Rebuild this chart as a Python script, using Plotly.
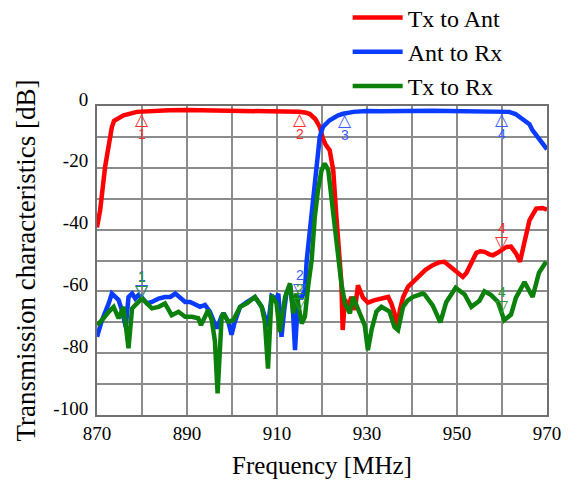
import numpy as np
import plotly.graph_objects as go

# Frequency sweep readings [MHz] and transmission [dB] for each path
tx_ant_freq = [870, 870.7, 871.8, 873.3, 873.8, 875.9, 878.9, 882, 886, 890, 895, 900, 905, 910,
               913, 915, 916.5, 917.3, 918.5, 919.5, 920.2, 920.8, 921.7, 922.5, 923.2, 924.0,
               924.3, 924.6, 925.1, 925.8, 926.5, 927.3, 928.0, 929.1, 930.2, 931.7, 933.6,
               934.7, 935.4, 936.1, 936.7, 937.3, 938.0, 939.1, 940.2, 941.7, 943.0, 944.6,
               946.0, 947.2, 948.2, 949.1, 950.3, 951.3, 952.1, 952.8, 954.3, 955.2, 956.1,
               957.2, 958.0, 959.0, 960.2, 961.0, 962.0, 963.1, 964.0, 965.0, 966.1, 967.6,
               969.0, 970]
tx_ant_db = [-39.3, -33.7, -19.7, -6.8, -4.8, -3.0, -1.9, -1.6, -1.4, -1.3, -1.4, -1.3, -1.5, -1.7,
             -1.8, -1.9, -2.2, -2.6, -4.2, -6.8, -10.5, -12.5, -14.3, -20.8, -35.9, -49.9,
             -57.0, -72.5, -62.5, -65.5, -61.8, -66.0, -58.0, -62.0, -63.6, -62.8, -62.3,
             -61.8, -63.9, -67.0, -72.5, -66.0, -62.0, -58.5, -57.0, -54.7, -53.0, -51.5,
             -50.6, -50.4, -51.5, -52.8, -54.0, -55.3, -54.0, -52.1, -47.5, -47.0, -47.2,
             -48.0, -48.3, -47.5, -46.3, -45.6, -45.5, -47.7, -50.4, -44.5, -37.0, -33.2,
             -33.0, -33.5]

ant_rx_freq = [870, 871.1, 872.6, 873.3, 874.1, 874.8, 875.5, 876.4, 877.0, 877.8, 878.5, 879.2,
               880, 881.1, 882.2, 883.7, 885.1, 886.3, 887.4, 888.5, 889.6, 890.7, 891.8, 892.9,
               894.0, 895.1, 895.9, 896.6, 897.7, 898.1, 899.2, 899.9, 900.6, 901.8, 903.3,
               905.1, 906.6, 907.3, 908.0, 908.8, 909.9, 910.3, 911.0, 911.6, 912.1, 912.9,
               913.5, 914.0, 914.5, 914.7, 915.5, 916.2, 916.6, 917.3, 918.0, 918.8, 919.5,
               920.2, 921.7, 923.6, 924.7, 927, 929.9, 933, 937.3, 941, 944.6, 948, 952, 955,
               959.4, 961.6, 963.0, 963.9, 964.6, 966.1, 966.8, 968.0, 969.0, 970]
ant_rx_db = [-74.7, -69.3, -63.9, -60.7, -61.8, -62.8, -66.0, -71.5, -61.8, -60.7, -62.3, -61.2,
             -62.0, -63.9, -63.4, -62.3, -61.8, -61.8, -60.7, -62.3, -63.4, -63.4, -64.4, -65.0,
             -64.4, -66.6, -69.5, -72.0, -68.0, -67.0, -70.0, -74.0, -70.0, -65.0, -63.5,
             -61.8, -65.0, -68.5, -71.5, -61.5, -62.5, -60.7, -74.7, -66.0, -60.7, -58.0,
             -65.0, -79.0, -66.0, -61.8, -62.0, -59.6, -50.0, -40.2, -30.5, -20.8, -10.0,
             -6.8, -4.6, -3.0, -2.5, -1.9, -1.6, -1.7, -1.5, -1.6, -1.5, -1.6, -1.6, -1.8,
             -1.9, -1.9, -2.6, -3.6, -4.6, -5.9, -7.9, -10.2, -12.0, -14.0]

tx_rx_freq = [870, 871.1, 872.6, 873.7, 874.8, 875.9, 877.0, 877.8, 878.9, 880, 881.1, 882.2,
              883.7, 885.1, 886.6, 888.1, 889.6, 891.1, 892.5, 893.1, 894.0, 894.7, 895.5,
              896.2, 896.8, 897.7, 898.1, 899.2, 900.3, 901.8, 903.3, 905.1, 906.6, 907.3,
              908.0, 908.8, 909.9, 910.6, 911.8, 912.9, 913.6, 914.3, 915.5, 916.2, 916.9,
              917.7, 918.4, 919.1, 919.9, 920.6, 921.4, 922.1, 922.8, 923.6, 924.3, 925.1,
              925.8, 926.2, 926.9, 927.7, 928.4, 929.5, 930.2, 931.0, 932.1, 933.2, 934.2,
              935.0, 936.1, 936.9, 938.0, 939.0, 940.2, 942.4, 942.8, 944.6, 946.3, 947.6,
              949.7, 951.7, 953.2, 955.0, 956.1, 957.6, 959.1, 960.5, 962.0, 963.1, 965.0,
              966.8, 968.2, 969.8]
tx_rx_db = [-70.9, -69.3, -66.6, -65.0, -68.7, -65.0, -78.4, -65.5, -63.9, -62.3, -63.9, -65.5,
            -65.0, -63.9, -67.7, -66.6, -68.2, -68.2, -68.7, -70.9, -68.2, -66.0, -69.3,
            -76.0, -93.0, -68.2, -67.1, -69.8, -69.3, -65.0, -63.9, -61.8, -65.0, -69.8,
            -85.0, -61.2, -63.9, -73.1, -61.8, -57.4, -67.1, -60.7, -70.4, -68.2, -58.5,
            -49.9, -35.9, -27.3, -20.8, -18.6, -20.8, -29.4, -40.2, -49.9, -57.4, -63.9,
            -66.0, -67.1, -61.8, -65.0, -67.1, -71.0, -79.0, -72.5, -66.5, -65.0, -66.0,
            -66.5, -71.5, -72.5, -65.0, -63.0, -61.8, -60.7, -61.0, -64.5, -70.0, -63.5,
            -58.8, -61.0, -65.0, -63.0, -60.0, -61.2, -63.4, -69.3, -67.5, -62.0, -57.0,
            -61.8, -54.0, -50.4]

# Analyzer markers: frequency, label, and whether the triangle points up (below trace)
tx_ant_markers = [(880, "1", "up"), (915, "2", "up"), (960, "4", "down")]
ant_rx_markers = [(880, "1", "down"), (915, "2", "down"), (925, "3", "up"), (960, "4", "up")]
tx_rx_markers = [(880, "1", "down"), (915, "2", "down"), (960, "4", "down")]

x_ticks = [870, 890, 910, 930, 950, 970]
y_ticks = [0, -20, -40, -60, -80, -100]

series = [
    ("Tx to Ant", tx_ant_freq, tx_ant_db, "#ff0000", "#ff2a2a", tx_ant_markers),
    ("Ant to Rx", ant_rx_freq, ant_rx_db, "#0a3cff", "#3a5cff", ant_rx_markers),
    ("Tx to Rx", tx_rx_freq, tx_rx_db, "#0b800b", "#2a9a2a", tx_rx_markers),
]

SERIF = "Liberation Serif, Times New Roman, serif"
SANS = "Liberation Sans, Arial, sans-serif"

fig = go.Figure()
annotations = []
for name, fx, fy, color, mcolor, markers in series:
    fig.add_trace(go.Scatter(x=fx, y=fy, mode="lines", name=name,
                             line=dict(color=color, width=4.5)))
    for f, label, direction in markers:
        v = float(np.interp(f, fx, fy))
        if direction == "up":
            annotations.append(dict(x=f, y=v, xref="x", yref="y", text="△",
                                    showarrow=False, yanchor="top", yshift=5,
                                    font=dict(family="DejaVu Sans", size=17, color=mcolor)))
            annotations.append(dict(x=f, y=v, xref="x", yref="y", text=label,
                                    showarrow=False, yanchor="top", yshift=-12,
                                    font=dict(family=SANS, size=14, color=mcolor)))
        else:
            annotations.append(dict(x=f, y=v, xref="x", yref="y", text="▽",
                                    showarrow=False, yanchor="bottom", yshift=-4,
                                    font=dict(family="DejaVu Sans", size=17, color=mcolor)))
            annotations.append(dict(x=f, y=v, xref="x", yref="y", text=label,
                                    showarrow=False, yanchor="bottom", yshift=12,
                                    font=dict(family=SANS, size=14, color=mcolor)))

grid = dict(showgrid=True, gridcolor="#8c8c8c", gridwidth=1.5,
            showline=True, linecolor="#707070", linewidth=2, mirror=True,
            zeroline=False, ticks="", tickfont=dict(family=SERIF, size=19, color="#000"))

fig.update_layout(
    width=577, height=494,
    margin=dict(l=97, r=30, t=106, b=79, autoexpand=False),
    paper_bgcolor="white", plot_bgcolor="white",
    showlegend=True,
    legend=dict(x=0.557, y=1.358, xanchor="left", yanchor="top",
                font=dict(family=SERIF, size=24, color="#000"),
                bgcolor="rgba(0,0,0,0)", itemwidth=50),
    annotations=annotations,
    xaxis=dict(range=[870, 970], tickvals=x_ticks, ticktext=[str(t) for t in x_ticks],
               minor=dict(dtick=10, showgrid=True, gridcolor="#8c8c8c", gridwidth=1.5),
               title=dict(text="Frequency [MHz]", font=dict(family=SERIF, size=25, color="#000"),
                          standoff=14),
               **grid),
    yaxis=dict(range=[-100, 0], tickvals=y_ticks, ticktext=[str(t) for t in y_ticks],
               minor=dict(dtick=10, showgrid=True, gridcolor="#8c8c8c", gridwidth=1.5),
               ticklabelshift=-7, ticklabelstandoff=3,
               title=dict(text="Transmission characteristics [dB]",
                          font=dict(family=SERIF, size=27, color="#000"), standoff=10),
               **grid),
)

fig.write_html("out.html")
